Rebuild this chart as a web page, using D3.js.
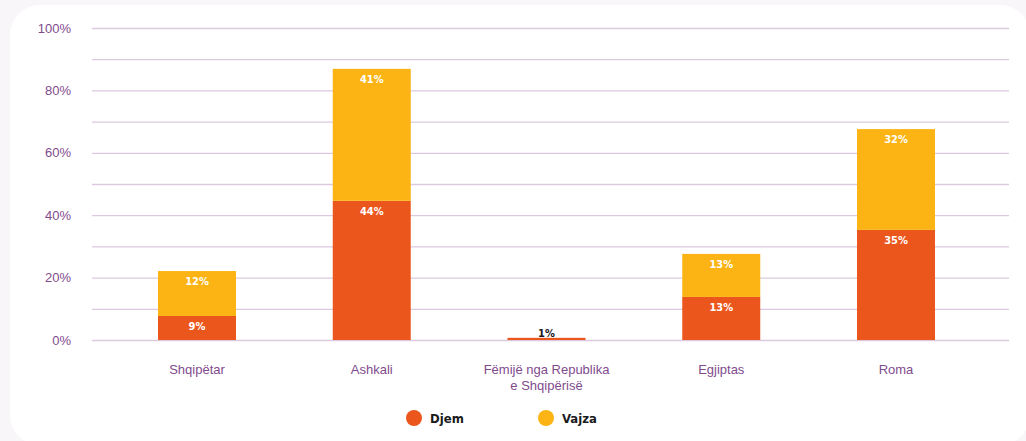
<!DOCTYPE html>
<html><head><meta charset="utf-8">
<script src="https://cdn.jsdelivr.net/npm/d3@7"></script>
<style>
html,body{margin:0;padding:0;background:#f8f6f9;}
svg{display:block;}
</style></head>
<body>
<svg id="c" width="1026" height="441"></svg>
<script>
const categories = ["Shqipëtar", "Ashkali", "Fëmijë nga Republika\ne Shqipërisë", "Egjiptas", "Roma"];
const djem = [7.7, 44.6, 0.7, 13.8, 35.3];
const vajza = [14.4, 42.3, 0, 13.8, 32.3];
const djemLabels = ["9%", "44%", "1%", "13%", "35%"];
const vajzaLabels = ["12%", "41%", "", "13%", "32%"];
const yTicks = [0, 20, 40, 60, 80, 100];
const gridTicks = [0, 10, 20, 30, 40, 50, 60, 70, 80, 90, 100];
const seriesNames = ["Djem", "Vajza"];
const colors = ["#eb561d", "#fbb414"];

const svg = d3.select("#c");
svg.append("rect").attr("x", 10).attr("y", 5).attr("width", 1020).attr("height", 440)
  .attr("rx", 30).attr("fill", "#ffffff");

const y = d3.scaleLinear().domain([0, 100]).range([340, 28]);
const x = d3.scalePoint().domain(categories).range([197, 896]);
const bw = 78;
const purple = "#7f4b8d";
const font = "'Liberation Sans', Arial, sans-serif";
const cond = "'DejaVu Sans Condensed', 'Liberation Sans Narrow', sans-serif";

// grid
svg.append("g").selectAll("line").data(gridTicks).join("line")
  .attr("x1", 92).attr("x2", 1009)
  .attr("y1", d => y(d) + 0.5).attr("y2", d => y(d) + 0.5)
  .attr("stroke", "#dcc9df").attr("stroke-width", 1.3);

// y axis labels
const yAxis = d3.axisLeft(y).tickValues(yTicks).tickFormat(d => d + "%").tickSize(0).tickPadding(0);
const ga = svg.append("g").attr("transform", "translate(71,0)").call(yAxis);
ga.select(".domain").remove();
ga.selectAll("text").attr("fill", purple).attr("font-size", 13).attr("font-family", font).attr("dy", "0.32em");

// stacked data
const stackData = categories.map((c, i) => ({cat: c, Djem: djem[i], Vajza: vajza[i], i}));
const stack = d3.stack().keys(seriesNames)(stackData);

const layers = svg.append("g").selectAll("g").data(stack).join("g")
  .attr("fill", (d, i) => colors[i]);
layers.selectAll("rect").data(d => d).join("rect")
  .attr("x", d => x(d.data.cat) - bw / 2)
  .attr("width", bw)
  .attr("y", d => y(d[1]))
  .attr("height", d => y(d[0]) - y(d[1]));

// value labels
stack.forEach((layer, li) => {
  const labs = li === 0 ? djemLabels : vajzaLabels;
  svg.append("g").selectAll("text").data(layer).join("text")
    .attr("x", d => x(d.data.cat))
    .attr("y", d => {
      const h = y(d[0]) - y(d[1]);
      return h < 12 ? y(d[1]) - 1 : y(d[1]) + 14;
    })
    .attr("text-anchor", "middle")
    .attr("font-family", cond)
    .attr("font-weight", "bold")
    .attr("font-size", 11)
    .attr("fill", d => (y(d[0]) - y(d[1]) < 12) ? "#1a1a1a" : "#ffffff")
    .text(d => labs[d.data.i]);
});

// category labels
const cl = svg.append("g").selectAll("text").data(categories).join("text")
  .attr("x", d => x(d)).attr("y", 374)
  .attr("text-anchor", "middle").attr("fill", purple)
  .attr("font-size", 13).attr("font-family", font);
cl.each(function(d) {
  const lines = d.split("\n");
  d3.select(this).selectAll("tspan").data(lines).join("tspan")
    .attr("x", x(d)).attr("dy", (l, i) => i === 0 ? 0 : 16).text(l => l);
});

// legend
const legendX = [414, 546];
const lg = svg.append("g").selectAll("g").data(seriesNames).join("g")
  .attr("transform", (d, i) => `translate(${legendX[i]},418)`);
lg.append("circle").attr("r", 8).attr("fill", (d, i) => colors[i]);
lg.append("text").attr("x", 16).attr("dy", "0.35em")
  .attr("font-family", cond).attr("font-weight", "bold").attr("font-size", 13)
  .attr("fill", "#1a1a1a").text(d => d);
</script>
</body></html>
